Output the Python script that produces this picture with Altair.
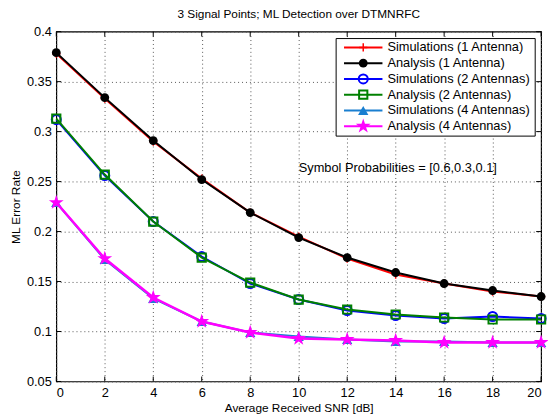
import altair as alt
import pandas as pd

snr = [0, 2, 4, 6, 8, 10, 12, 14, 16, 18, 20]

sim_1 = [0.378, 0.333, 0.290, 0.253, 0.219, 0.195, 0.173, 0.157, 0.148, 0.140, 0.135]
ana_1 = [0.379, 0.334, 0.291, 0.252, 0.219, 0.194, 0.174, 0.159, 0.148, 0.141, 0.135]
sim_2 = [0.312, 0.256, 0.210, 0.175, 0.148, 0.132, 0.121, 0.116, 0.113, 0.115, 0.113]
ana_2 = [0.313, 0.257, 0.210, 0.174, 0.149, 0.132, 0.122, 0.117, 0.114, 0.112, 0.112]
sim_4 = [0.229, 0.172, 0.133, 0.110, 0.099, 0.095, 0.092, 0.090, 0.090, 0.089, 0.089]
ana_4 = [0.229, 0.173, 0.134, 0.110, 0.099, 0.093, 0.092, 0.091, 0.089, 0.089, 0.089]

series_names = [
    "Simulations (1 Antenna)",
    "Analysis (1 Antenna)",
    "Simulations (2 Antennas)",
    "Analysis (2 Antennas)",
    "Simulations (4 Antennas)",
    "Analysis (4 Antennas)",
]
series_values = [sim_1, ana_1, sim_2, ana_2, sim_4, ana_4]
series_colors = ["#ff0000", "#000000", "#0000ff", "#008000", "#1a7fd0", "#ff00ff"]

x_ticks = [0, 2, 4, 6, 8, 10, 12, 14, 16, 18, 20]
y_ticks = [0.05, 0.1, 0.15, 0.2, 0.25, 0.3, 0.35, 0.4]

title_text = "3 Signal Points; ML Detection over DTMNRFC"
x_title = "Average Received SNR [dB]"
y_title = "ML Error Rate"
note_text = "Symbol Probabilities = [0.6,0.3,0.1]"

FONT = "Liberation Sans"
W, H = 492, 355

STAR = ("M0,-1L0.2245,-0.309L0.951,-0.309L0.363,0.118L0.588,0.809L0,0.382"
        "L-0.588,0.809L-0.363,0.118L-0.951,-0.309L-0.2245,-0.309Z")
PLUS = "M-1,0L1,0M0,-1L0,1"

marker_styles = [
    dict(shape=PLUS, size=70, filled=False, strokeWidth=1.5),
    dict(shape="circle", size=80, filled=True, strokeWidth=1),
    dict(shape="circle", size=85, filled=False, strokeWidth=2),
    dict(shape="square", size=70, filled=False, strokeWidth=2),
    dict(shape="triangle-up", size=110, filled=True, strokeWidth=1),
    dict(shape=STAR, size=250, filled=True, strokeWidth=1),
]
line_widths = [2, 2, 2, 2, 2, 2.5]

rows = []
for name, vals in zip(series_names, series_values):
    for s, v in zip(snr, vals):
        rows.append({"snr": s, "rate": v, "series": name})
df = pd.DataFrame(rows)

xs = alt.Scale(domain=[0, 20], nice=False, zero=False)
ys = alt.Scale(domain=[0.05, 0.4], nice=False, zero=False)

base = alt.Chart(df)

x_enc = alt.X("snr:Q", scale=xs, axis=alt.Axis(
    values=x_ticks, title=x_title, grid=True, ticks=False, domain=False,
    labelPadding=5, titlePadding=3, labelFontSize=13, titleFontSize=12,
    titleFontWeight="normal", labelFont=FONT, titleFont=FONT,
    labelColor="#000", titleColor="#000",
    gridColor="#555", gridDash=[1, 3], gridWidth=1))
y_enc = alt.Y("rate:Q", scale=ys, axis=alt.Axis(
    values=y_ticks, format="~g", title=y_title, grid=True, ticks=False, domain=False,
    labelPadding=5, titlePadding=4, labelFontSize=13, titleFontSize=12,
    titleFontWeight="normal", labelFont=FONT, titleFont=FONT,
    labelColor="#000", titleColor="#000",
    gridColor="#555", gridDash=[1, 3], gridWidth=1))

layers = []
# axes/grid carrier
layers.append(base.mark_point(opacity=0).encode(x=x_enc, y=y_enc))

# inward ticks
tx = pd.DataFrame({"t": x_ticks})
ty = pd.DataFrame({"t": y_ticks})
layers.append(alt.Chart(tx).mark_rule(color="black", strokeWidth=1).encode(
    x=alt.X("t:Q", scale=xs), y=alt.value(H), y2=alt.value(H - 5)))
layers.append(alt.Chart(tx).mark_rule(color="black", strokeWidth=1).encode(
    x=alt.X("t:Q", scale=xs), y=alt.value(0), y2=alt.value(5)))
layers.append(alt.Chart(ty).mark_rule(color="black", strokeWidth=1).encode(
    y=alt.Y("t:Q", scale=ys), x=alt.value(0), x2=alt.value(5)))
layers.append(alt.Chart(ty).mark_rule(color="black", strokeWidth=1).encode(
    y=alt.Y("t:Q", scale=ys), x=alt.value(W), x2=alt.value(W - 5)))

for name, col, ms, lw in zip(series_names, series_colors, marker_styles, line_widths):
    sub = base.transform_filter(alt.datum.series == name)
    layers.append(sub.mark_line(color=col, strokeWidth=lw).encode(
        x=alt.X("snr:Q", scale=xs), y=alt.Y("rate:Q", scale=ys)))
    layers.append(sub.mark_point(color=col, opacity=1, shape=ms["shape"], size=ms["size"],
                                 filled=ms["filled"], strokeWidth=ms["strokeWidth"]).encode(
        x=alt.X("snr:Q", scale=xs), y=alt.Y("rate:Q", scale=ys)))

# annotation
layers.append(alt.Chart(pd.DataFrame({"t": [note_text]})).mark_text(
    align="left", baseline="middle", fontSize=13, font=FONT, color="black").encode(
    x=alt.value(246), y=alt.value(138), text="t:N"))

# legend
layers.append(alt.Chart(pd.DataFrame({"a": [0]})).mark_rect(
    fill="white", stroke="black", strokeWidth=1).encode(
    x=alt.value(284), x2=alt.value(486), y=alt.value(7), y2=alt.value(106)))
for i, (name, col, ms) in enumerate(zip(series_names, series_colors, marker_styles)):
    yy = 16 + 16 * i
    ldf = pd.DataFrame({"label": [name]})
    lb = alt.Chart(ldf)
    layers.append(lb.mark_rule(color=col, strokeWidth=2).encode(
        x=alt.value(292), x2=alt.value(331), y=alt.value(yy)))
    layers.append(lb.mark_point(color=col, opacity=1, shape=ms["shape"], size=ms["size"],
                                filled=ms["filled"], strokeWidth=ms["strokeWidth"]).encode(
        x=alt.value(311.5), y=alt.value(yy)))
    layers.append(lb.mark_text(align="left", baseline="middle", fontSize=13, font=FONT,
                               color="black").encode(
        x=alt.value(336), y=alt.value(yy), text="label:N"))

chart = alt.layer(*layers).properties(
    width=W, height=H,
    title=alt.TitleParams(title_text, fontSize=12, font=FONT, fontWeight="normal",
                          color="black", anchor="middle", offset=5),
    autosize=alt.AutoSizeParams(type="none"),
    padding={"left": 49, "top": 21, "right": 7, "bottom": 30},
).configure_view(stroke="black", strokeWidth=1.2)

chart.save("out.html", embed_options={"renderer": "svg", "actions": False})
